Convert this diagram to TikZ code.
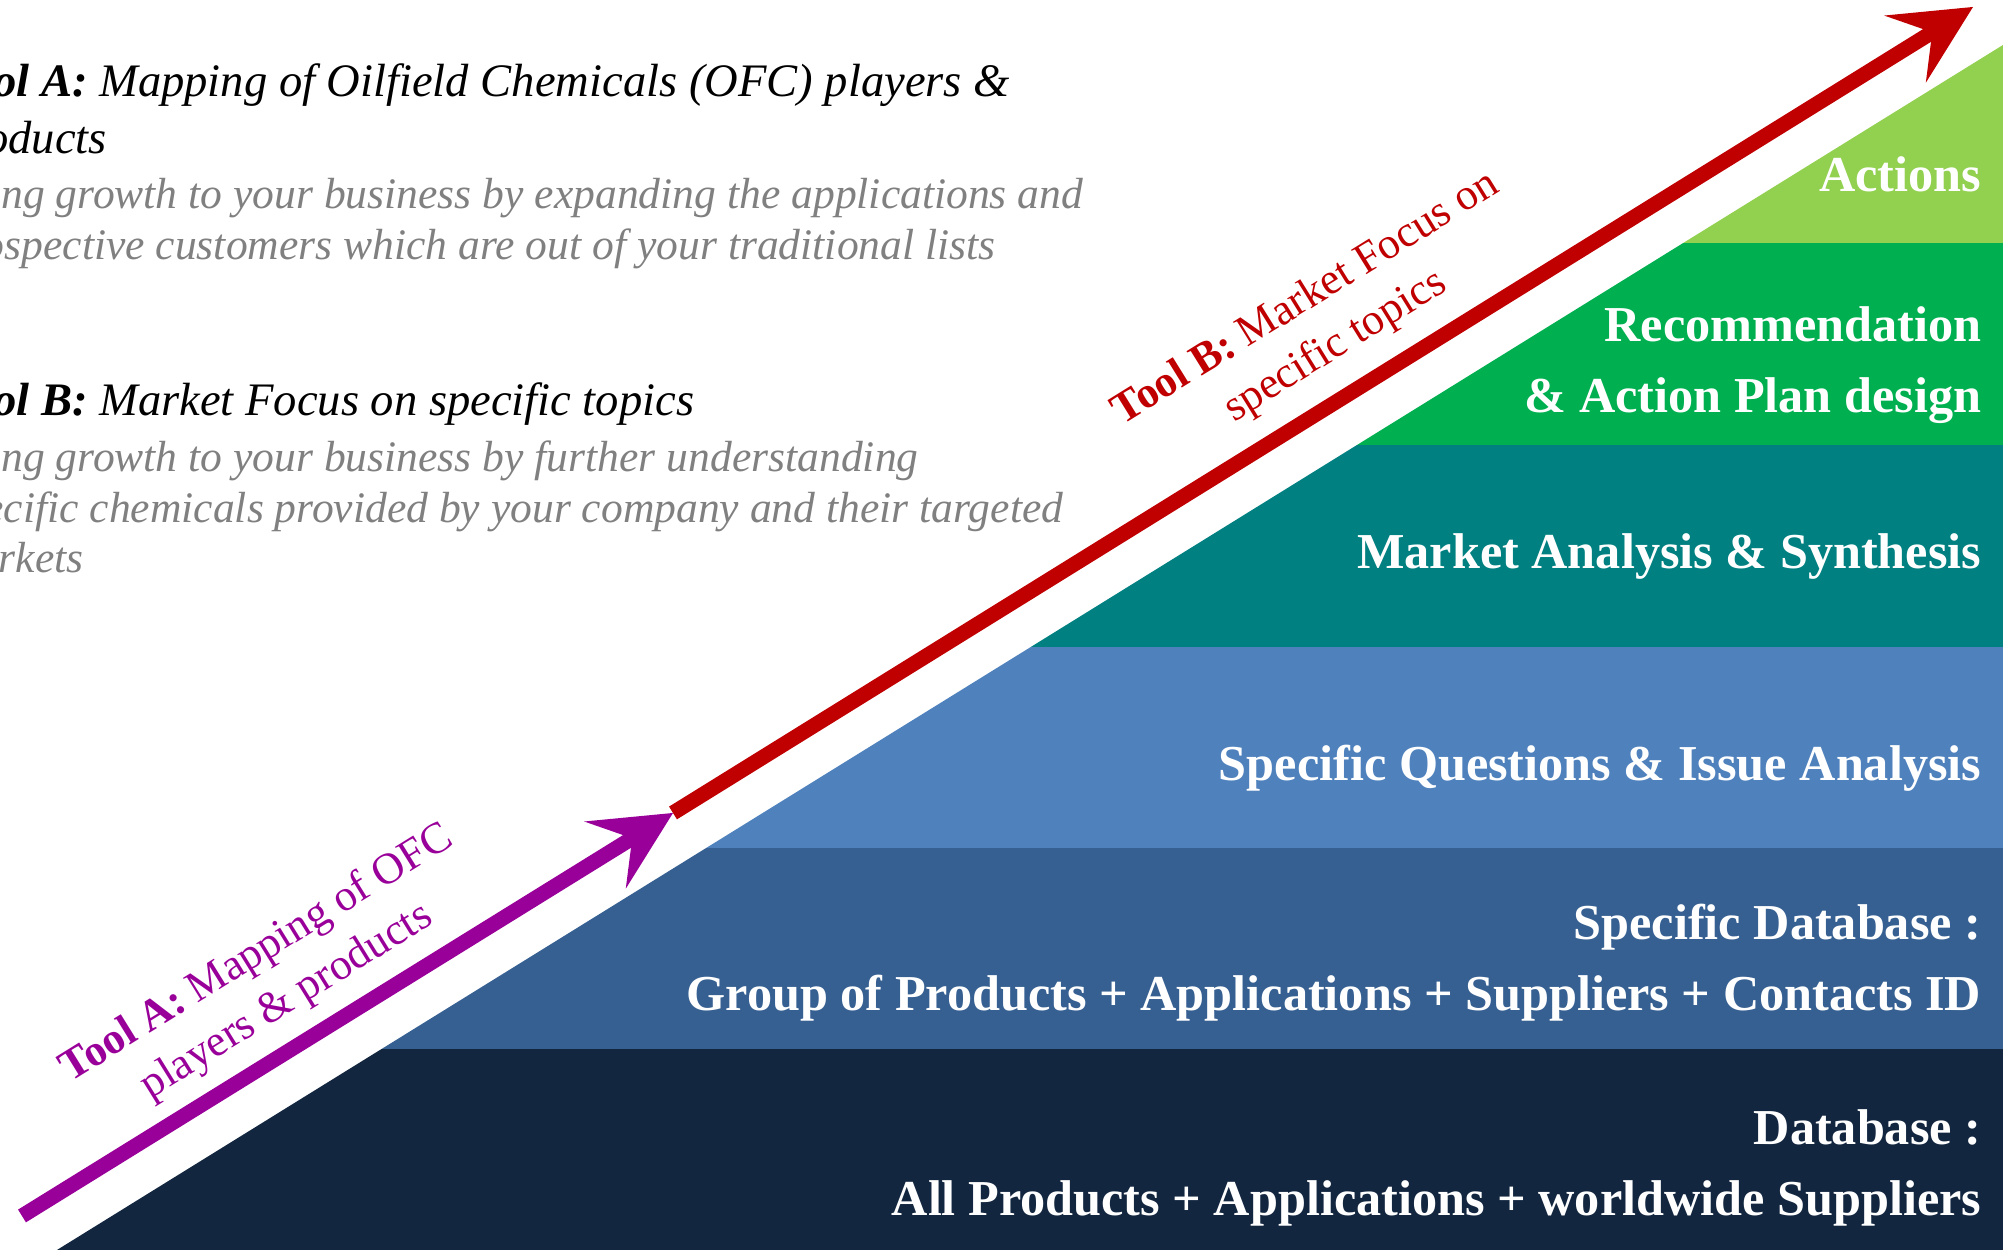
\documentclass[tikz,border=0pt]{standalone}
\usepackage{fontspec}
\setmainfont{Liberation Serif}
\usetikzlibrary{arrows.meta}

\definecolor{dbnavy}{HTML}{13263F}
\definecolor{sdbblue}{HTML}{376092}
\definecolor{sqblue}{HTML}{4F81BD}
\definecolor{mateal}{HTML}{008080}
\definecolor{recgreen}{HTML}{00B050}
\definecolor{actgreen}{HTML}{92D050}
\definecolor{toolapurple}{HTML}{990099}
\definecolor{toolbred}{HTML}{C00000}
\definecolor{notegray}{HTML}{808080}

\tikzset{
  band/.style={font=\fontsize{14.3}{20.2}\selectfont\bfseries, text=white, anchor=east, align=right, inner sep=0pt},
  head/.style={font=\fontsize{13.25}{16}\selectfont\itshape, anchor=base west, inner sep=0pt},
  note/.style={font=\fontsize{12.4}{14.5}\selectfont\itshape, text=notegray, anchor=base west, inner sep=0pt},
  tool/.style={font=\fontsize{12.5}{16}\selectfont, rotate=31.8, align=center, inner sep=0pt},
  toolarrow/.style={line width=1.5mm, -{Stealth[length=8mm,width=7.9mm,inset=3.2mm,line width=0pt]}}
}

\begin{document}
\begin{tikzpicture}[x=0.1mm,y=0.1mm]
  \useasboundingbox (0,0) rectangle (2009,1250);
  \clip (0,0) rectangle (2009,1250);

  % staircase of layers
  \begin{scope}
    \clip (57,0) -- (2003,0) -- (2003,1205) -- cycle;
    \fill[dbnavy] (0,0) rectangle (2003,201);
    \fill[sdbblue] (0,201) rectangle (2003,402);
    \fill[sqblue] (0,402) rectangle (2003,603);
    \fill[mateal] (0,603) rectangle (2003,805);
    \fill[recgreen] (0,805) rectangle (2003,1007);
    \fill[actgreen] (0,1007) rectangle (2003,1205);
  \end{scope}

  %layer labels
  \node[band] (db) at (1982,82) {Database :\\All Products + Applications + worldwide Suppliers};
  \node[band] (sdb) at (1982,287) {Specific Database :\\Group of Products + Applications + Suppliers + Contacts ID};
  \node[band] (sq) at (1982,482) {Specific Questions \& Issue Analysis};
  \node[band] (ma) at (1982,693) {Market Analysis \& Synthesis};
  \node[band] (rec) at (1982,885) {Recommendation\\\& Action Plan design};
  \node[band] (act) at (1982,1076) {Actions};

  % tool arrows
  \coordinate (atail) at (22,34);
  \coordinate (atip) at (673,437);
  \coordinate (btip) at (1973,1243);
  \draw[toolarrow,toolapurple] (atail) -- (atip);
  \draw[toolarrow,toolbred] (atip) -- (btip);

  \node[tool,text=toolapurple] (tla) at (272,272) {\textbf{Tool A:} Mapping of OFC\\players \& products};
  \node[tool,text=toolbred] (tlb) at (1321,927) {\textbf{Tool B:} Market Focus on\\specific topics};

  %left notes
  \node[head] (ha1) at (-55,1153) {\textbf{Tool A:} Mapping of Oilfield Chemicals (OFC) players \&};
  \node[head] (ha2) at (-55,1096) {products};
  \node[note] (na1) at (-55,1041) {Bring growth to your business by expanding the applications and};
  \node[note] (na2) at (-55,990) {prospective customers which are out of your traditional lists};

  \node[head] (hb1) at (-55,834) {\textbf{Tool B:} Market Focus on specific topics};
  \node[note] (nb1) at (-55,778) {Bring growth to your business  by further understanding};
  \node[note] (nb2) at (-55,727) {specific chemicals provided by your company and their targeted};
  \node[note] (nb3) at (-55,677) {markets};
\end{tikzpicture}
\end{document}
